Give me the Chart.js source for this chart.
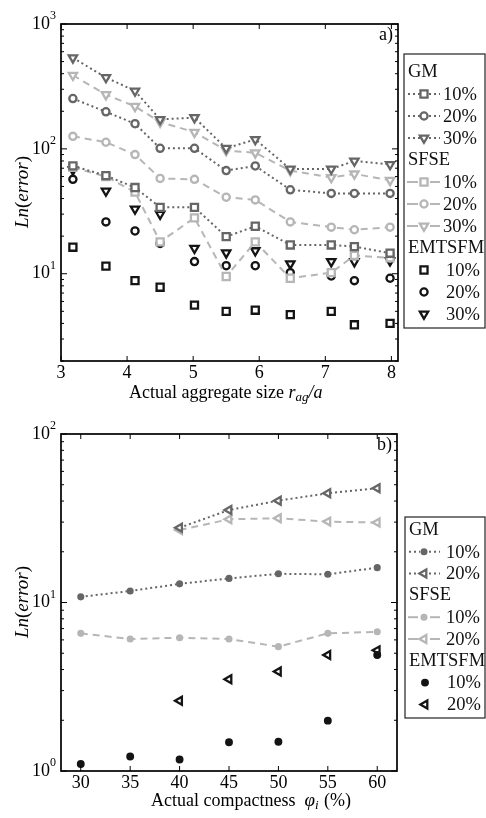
<!DOCTYPE html>
<html>
<head>
<meta charset="utf-8">
<script src="https://cdn.jsdelivr.net/npm/chart.js@4/dist/chart.umd.min.js"></script>
<style>
  html, body { margin: 0; padding: 0; background: #fff; }
  #wrap { position: relative; width: 486px; height: 818px; }
  canvas { position: absolute; left: 0; }
  #ca { top: 0; }
  #cb { top: 410px; }
</style>
</head>
<body>
<div id="wrap">
  <canvas id="ca" width="486" height="410"></canvas>
  <canvas id="cb" width="486" height="408"></canvas>
</div>
<script>
// ---- panel a: error vs. aggregate size ----
const sizeRatio = [3.18, 3.68, 4.12, 4.5, 5.02, 5.5, 5.94, 6.47, 7.09, 7.44, 7.98];
const gm10a   = [73, 61, 49, 34, 34, 19.8, 24, 17, 17, 16.5, 14.6];
const gm20a   = [253, 198, 159, 101, 101, 67, 73, 47, 44, 44, 44];
const gm30a   = [536, 373, 291, 172, 178, 101, 119, 69, 69, 80, 75];
const sfse10a = [71, 60, 45, 18, 28, 9.5, 18, 9.2, 10.2, 14, 13.4];
const sfse20a = [126, 113, 90, 58, 57, 41, 39, 26, 23.6, 22.5, 23.6];
const sfse30a = [389, 272, 219, 164, 136, 97, 93, 67, 59, 63, 56];
const emt10a  = [16.3, 11.5, 8.8, 7.8, 5.6, 5.0, 5.1, 4.7, 5.0, 3.9, 4.0];
const emt20a  = [57, 26, 22, 17.5, 12.5, 11.6, 11.6, 10.2, 9.6, 8.8, 9.2];
const emt30a  = [68, 46, 33, 30, 16, 14.7, 15.3, 12, 12.5, 12.5, 12.7];
const xTicksA = [3, 4, 5, 6, 7, 8];

// ---- panel b: error vs. compactness ----
const compactness = [30, 35, 40, 45, 50, 55, 60];
const gm10b   = [10.8, 11.7, 12.9, 13.9, 14.8, 14.7, 16.1];
const gm20b   = [null, null, 27.8, 35.4, 40.2, 44.5, 47.6];
const sfse10b = [6.56, 6.07, 6.18, 6.07, 5.47, 6.56, 6.7];
const sfse20b = [null, null, 26.9, 31.2, 31.6, 30.2, 29.8];
const emt10b  = [1.1, 1.22, 1.17, 1.48, 1.49, 1.99, 4.88];
const emt20b  = [null, null, 2.61, 3.5, 3.9, 4.88, 5.2];
const xTicksB = [30, 35, 40, 45, 50, 55, 60];

const seriesLabels = ['10%', '20%', '30%'];

const FONT = '"Liberation Serif", "Times New Roman", serif';
const DARK = '#666666', LIGHT = '#b6b6b6', BLACK = '#141414';
const DOT = [2, 3], DASH = [7, 5];

function fnt(size, italic) { return (italic ? 'italic ' : '') + size + 'px ' + FONT; }

function pts(xs, ys) {
  return xs.map((x, i) => ({ x: x, y: ys[i] })).filter(p => p.y != null);
}

// one series: a method/noise-level pair
function series(group, label, xs, ys, color, dash, style, rot, fill, radius) {
  return {
    label: label, group: group,
    data: pts(xs, ys),
    showLine: !!dash,
    borderColor: color, backgroundColor: color,
    borderWidth: 2, borderDash: dash || [],
    pointStyle: style, pointRotation: rot, pointRadius: radius,
    pointBorderColor: color, pointBackgroundColor: fill, pointBorderWidth: 2.3,
    tension: 0, clip: false
  };
}

function line(ctx, x1, y1, x2, y2) {
  ctx.beginPath(); ctx.moveTo(x1, y1); ctx.lineTo(x2, y2); ctx.stroke();
}

// draw a sequence of text pieces with individual font/offsets
function runs(ctx, parts, x, y, measureOnly) {
  let cx = x;
  for (const p of parts) {
    ctx.font = fnt(p.size, p.italic);
    if (!measureOnly) ctx.fillText(p.t, cx, y + (p.dy || 0));
    cx += ctx.measureText(p.t).width + (p.gap || 0);
  }
  return cx - x;
}

const framePlugin = {
  id: 'frame',
  afterDraw(chart, args, o) {
    const ctx = chart.ctx, a = chart.chartArea;
    const xs = chart.scales.x, ys = chart.scales.y;
    ctx.save();
    ctx.setLineDash([]);
    ctx.strokeStyle = '#000';
    ctx.fillStyle = '#000';

    // tick marks on all four sides, pointing inwards
    ctx.lineWidth = 1;
    for (const v of o.xTicks) {
      const px = xs.getPixelForValue(v);
      line(ctx, px, a.bottom, px, a.bottom - 5);
      line(ctx, px, a.top, px, a.top + 5);
    }
    const e1 = Math.round(Math.log10(ys.max));
    const decades = [];
    for (let e = Math.floor(Math.log10(ys.min)); e <= e1; e++) {
      for (let m = 1; m < 10; m++) {
        const v = m * Math.pow(10, e);
        if (v < ys.min * 0.999 || v > ys.max * 1.001) continue;
        const py = ys.getPixelForValue(v);
        const len = m === 1 ? 6 : 3;
        line(ctx, a.left, py, a.left + len, py);
        line(ctx, a.right, py, a.right - len, py);
        if (m === 1) decades.push(e);
      }
    }

    // frame
    ctx.lineWidth = 1.7;
    ctx.strokeRect(a.left, a.top, a.right - a.left, a.bottom - a.top);

    // y tick labels 10^n
    ctx.textBaseline = 'middle';
    for (const e of decades) {
      const py = ys.getPixelForValue(Math.pow(10, e));
      ctx.textAlign = 'right';
      ctx.font = fnt(18, false);
      ctx.fillText('10', a.left - 11, py);
      ctx.textAlign = 'left';
      ctx.font = fnt(12, false);
      ctx.fillText(String(e), a.left - 11, py - 8);
    }

    // x tick labels
    ctx.textAlign = 'center';
    ctx.font = fnt(18, false);
    for (const v of o.xTicks) {
      ctx.fillText(String(v), xs.getPixelForValue(v), a.bottom + 12);
    }

    // x axis title
    ctx.textAlign = 'left';
    ctx.textBaseline = 'alphabetic';
    runs(ctx, o.xTitle, o.xTitleX, o.xTitleY);

    // y axis title, rotated
    const yt = [
      { t: 'Ln', size: 19, italic: true },
      { t: '(', size: 19, italic: false },
      { t: 'error', size: 19, italic: true },
      { t: ')', size: 19, italic: false }
    ];
    const w = runs(ctx, yt, 0, 0, true);
    ctx.save();
    ctx.translate(28, o.yTitleY);
    ctx.rotate(-Math.PI / 2);
    runs(ctx, yt, -w / 2, 0);
    ctx.restore();

    // panel tag
    ctx.textAlign = 'right';
    ctx.font = fnt(18, false);
    ctx.fillText(o.tag, a.right - 5, a.top + 16);

    // grouped legend
    const L = o.legend;
    ctx.lineWidth = 1.2;
    ctx.strokeStyle = '#222';
    ctx.strokeRect(L.left, L.top, L.right - L.left, L.bottom - L.top);
    let row = 0;
    let lastGroup = null;
    ctx.textBaseline = 'middle';
    ctx.textAlign = 'left';
    chart.data.datasets.forEach(d => {
      if (d.group !== lastGroup) {
        ctx.fillStyle = '#111';
        ctx.font = fnt(18.5, false);
        ctx.fillText(d.group, L.left + 4, L.y0 + row * L.step);
        row++;
        lastGroup = d.group;
      }
      const y = L.y0 + row * L.step;
      const mx = d.showLine ? L.marker : L.markerOnly;
      ctx.strokeStyle = d.borderColor;
      ctx.lineWidth = 2;
      if (d.showLine) {
        if (d.borderDash === DOT) {
          ctx.setLineDash(DOT);
          line(ctx, L.left + 4, y, mx - 4, y);
          line(ctx, mx + 5, y, L.sampleEnd, y);
        } else {
          ctx.setLineDash([]);
          line(ctx, L.left + 3, y, mx - 6, y);
          line(ctx, mx + 6, y, L.sampleEnd, y);
        }
        ctx.setLineDash([]);
      }
      ctx.fillStyle = d.pointBackgroundColor;
      ctx.strokeStyle = d.pointBorderColor;
      ctx.lineWidth = d.pointBorderWidth;
      Chart.helpers.drawPoint(ctx, {
        pointStyle: d.pointStyle, rotation: d.pointRotation,
        radius: d.pointRadius, borderWidth: d.pointBorderWidth
      }, mx, y);
      ctx.fillStyle = '#111';
      ctx.font = fnt(18.5, false);
      ctx.fillText(d.label, d.showLine ? L.text : L.textOnly, y + 1);
      row++;
    });
    ctx.restore();
  }
};

function makeChart(id, datasets, xmin, xmax, ymin, ymax, pad, opts) {
  return new Chart(document.getElementById(id), {
    type: 'line',
    data: { datasets: datasets },
    options: {
      responsive: false,
      animation: false,
      events: [],
      layout: { padding: pad },
      plugins: { legend: { display: false }, tooltip: { enabled: false }, frame: opts },
      scales: {
        x: {
          type: 'linear', min: xmin, max: xmax,
          grid: { display: false }, border: { display: false },
          ticks: { display: false },
          afterFit(s) { s.height = 0; }
        },
        y: {
          type: 'logarithmic', min: ymin, max: ymax,
          grid: { display: false }, border: { display: false },
          ticks: { display: false },
          afterFit(s) { s.width = 0; }
        }
      }
    },
    plugins: [framePlugin]
  });
}

const W = '#ffffff';
const dsA = [
  series('GM', seriesLabels[0], sizeRatio, gm10a, DARK, DOT, 'rect', 0, W, 5),
  series('GM', seriesLabels[1], sizeRatio, gm20a, DARK, DOT, 'circle', 0, W, 3.6),
  series('GM', seriesLabels[2], sizeRatio, gm30a, DARK, DOT, 'triangle', 180, W, 4.8),
  series('SFSE', seriesLabels[0], sizeRatio, sfse10a, LIGHT, DASH, 'rect', 0, W, 5),
  series('SFSE', seriesLabels[1], sizeRatio, sfse20a, LIGHT, DASH, 'circle', 0, W, 3.6),
  series('SFSE', seriesLabels[2], sizeRatio, sfse30a, LIGHT, DASH, 'triangle', 180, W, 4.8),
  series('EMTSFM', seriesLabels[0], sizeRatio, emt10a, BLACK, null, 'rect', 0, W, 5),
  series('EMTSFM', seriesLabels[1], sizeRatio, emt20a, BLACK, null, 'circle', 0, W, 3.6),
  series('EMTSFM', seriesLabels[2], sizeRatio, emt30a, BLACK, null, 'triangle', 180, W, 4.8)
];

const dsB = [
  series('GM', seriesLabels[0], compactness, gm10b, DARK, DOT, 'circle', 0, DARK, 2.4),
  series('GM', seriesLabels[1], compactness, gm20b, DARK, DOT, 'triangle', 270, W, 4.6),
  series('SFSE', seriesLabels[0], compactness, sfse10b, LIGHT, DASH, 'circle', 0, LIGHT, 2.4),
  series('SFSE', seriesLabels[1], compactness, sfse20b, LIGHT, DASH, 'triangle', 270, W, 4.6),
  series('EMTSFM', seriesLabels[0], compactness, emt10b, BLACK, null, 'circle', 0, BLACK, 2.8),
  series('EMTSFM', seriesLabels[1], compactness, emt20b, BLACK, null, 'triangle', 270, W, 4.6)
];

makeChart('ca', dsA, 3, 8.1, 2, 1000,
  { left: 61, right: 88, top: 24, bottom: 49 },
  {
    xTicks: xTicksA, tag: 'a)', yTitleY: 192,
    xTitleX: 129, xTitleY: 398,
    xTitle: [
      { t: 'Actual aggregate size ', size: 18 },
      { t: 'r', size: 18, italic: true },
      { t: 'ag', size: 13, italic: true, dy: 3 },
      { t: '/a', size: 18, italic: true }
    ],
    legend: { left: 404, top: 54, right: 485, bottom: 328, y0: 72, step: 22,
      marker: 424, markerOnly: 424, sampleEnd: 440, text: 443, textOnly: 446 }
  });

makeChart('cb', dsB, 28, 62, 1, 100,
  { left: 61, right: 89, top: 24, bottom: 47 },
  {
    xTicks: xTicksB, tag: 'b)', yTitleY: 192,
    xTitleX: 151, xTitleY: 396,
    xTitle: [
      { t: 'Actual compactness  ', size: 18 },
      { t: '\u03C6', size: 19, italic: true },
      { t: 'i', size: 13, italic: true, dy: 3, gap: 1 },
      { t: ' (%)', size: 18 }
    ],
    legend: { left: 405, top: 107, right: 485, bottom: 308, y0: 120, step: 21.8,
      marker: 424, markerOnly: 425, sampleEnd: 440, text: 446, textOnly: 447 }
  });
</script>
</body>
</html>
